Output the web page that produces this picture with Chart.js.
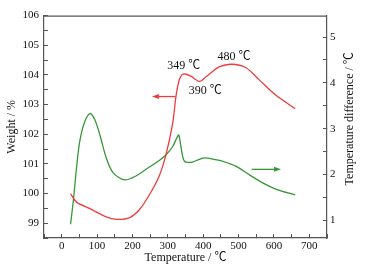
<!DOCTYPE html>
<html>
<head>
<meta charset="utf-8">
<script src="https://cdn.jsdelivr.net/npm/chart.js@4.4.0/dist/chart.umd.min.js"></script>
<style>
html,body{margin:0;padding:0;background:#fff;}
#wrap{width:365px;height:268px;}
</style>
</head>
<body>
<div id="wrap"><canvas id="c" width="365" height="268"></canvas></div>
<script>
// TG curve (weight, left axis)
const tgTemp   = [25, 42, 80, 126, 155, 192, 220, 250, 276, 295, 314, 323, 332, 340, 349, 365, 390, 407, 417, 445, 480, 520, 557, 605, 660];
const tgWeight = [100.0, 99.71, 99.49, 99.21, 99.13, 99.19, 99.46, 100.0, 100.6, 101.32, 102.38, 103.27, 103.82, 104.0, 104.03, 103.96, 103.78, 103.93, 104.02, 104.27, 104.36, 104.25, 103.85, 103.32, 102.86];
// DTA curve (temperature difference, right axis)
const dtaTemp  = [25, 33, 42, 51, 65, 80, 94, 108, 126, 145, 178, 211, 248, 275, 295, 314, 325, 331, 337, 344, 351, 370, 389, 407, 430, 454, 492, 529, 567, 605, 660];
const dtaDiff  = [0.91, 1.43, 2.15, 2.72, 3.15, 3.33, 3.19, 2.86, 2.36, 2.04, 1.88, 1.97, 2.16, 2.30, 2.43, 2.61, 2.79, 2.86, 2.61, 2.33, 2.27, 2.27, 2.33, 2.36, 2.33, 2.29, 2.18, 2.00, 1.82, 1.68, 1.55];
// axis ticks
const xTicks  = [-50, 0, 50, 100, 150, 200, 250, 300, 350, 400, 450, 500, 550, 600, 650, 700, 750];
const xLabels = [0, 100, 200, 300, 400, 500, 600, 700];
const yTicks  = [98.5, 99, 99.5, 100, 100.5, 101, 101.5, 102, 102.5, 103, 103.5, 104, 104.5, 105, 105.5, 106];
const yLabels = [99, 100, 101, 102, 103, 104, 105, 106];
const y1Ticks  = [1, 1.5, 2, 2.5, 3, 3.5, 4, 4.5, 5];
const y1Labels = [1, 2, 3, 4, 5];
// peak annotations
const peakLabels = ['349 ℃', '390 ℃', '480 ℃'];
const peakTemps  = [345, 406, 487];
const peakWeight = [104.3, 103.47, 104.6];

const SERIF = "'Liberation Serif', 'Times New Roman', 'Noto Sans CJK SC', serif";
const AX = '#555';
const RED = 'rgb(240,60,60)';
const GREEN = 'rgb(55,150,55)';

function pts(xs, ys){ return xs.map((x,i)=>({x:x, y:ys[i]})); }
function setTicks(list){ return s => { s.ticks = list.map(v=>({value:v})); }; }
function lab(list){ return v => list.includes(Math.round(v*100)/100) ? String(v) : ''; }

const decor = {
  id:'decor',
  afterDraw(chart){
    const ctx = chart.ctx, a = chart.chartArea;
    const sx = chart.scales.x, sy = chart.scales.y, sy1 = chart.scales.y1;
    ctx.save();
    // top frame line
    ctx.strokeStyle = AX; ctx.lineWidth = 1.2;
    ctx.beginPath(); ctx.moveTo(a.left, a.top+0.5); ctx.lineTo(a.right, a.top+0.5); ctx.stroke();
    // peak labels
    ctx.fillStyle = '#111'; ctx.font = '12px ' + SERIF;
    ctx.textAlign = 'center'; ctx.textBaseline = 'middle';
    peakLabels.forEach((t,i)=>{
      ctx.fillText(t, sx.getPixelForValue(peakTemps[i]), sy.getPixelForValue(peakWeight[i]));
    });
    // arrows
    function arrow(scaleY, x0, x1, yv, color){
      const px0 = sx.getPixelForValue(x0), px1 = sx.getPixelForValue(x1), py = scaleY.getPixelForValue(yv);
      const dir = Math.sign(px1 - px0);
      ctx.strokeStyle = color; ctx.fillStyle = color; ctx.lineWidth = 1.3;
      ctx.beginPath(); ctx.moveTo(px0, py); ctx.lineTo(px1 - dir*5, py); ctx.stroke();
      ctx.beginPath(); ctx.moveTo(px1, py); ctx.lineTo(px1 - dir*7, py-2.5); ctx.lineTo(px1 - dir*7, py+2.5); ctx.closePath(); ctx.fill();
    }
    arrow(sy, 322, 255, 103.27, RED);
    arrow(sy1, 537, 620, 2.11, GREEN);
    // right axis title (reads bottom-to-top)
    ctx.fillStyle = '#111'; ctx.font = '12px ' + SERIF;
    ctx.translate(sy1.right - 15, (a.top + a.bottom)/2 - 8);
    ctx.rotate(-Math.PI/2);
    ctx.textAlign = 'center'; ctx.textBaseline = 'middle';
    ctx.fillText('Temperature difference / ℃', 0, 0);
    ctx.restore();
  }
};

const gridOpts = {drawOnChartArea:false, color:AX, tickColor:AX, tickLength:-4, lineWidth:1};
const borderOpts = {color:AX, width:1.2};
const tickFont = {family:SERIF, size:11};

new Chart(document.getElementById('c'), {
  type:'line',
  data:{ datasets:[
    {label:'Weight', data:pts(tgTemp, tgWeight), yAxisID:'y', borderColor:RED, borderWidth:1.3, pointRadius:0, fill:false, tension:0.3},
    {label:'DTA', data:pts(dtaTemp, dtaDiff), yAxisID:'y1', borderColor:GREEN, borderWidth:1.3, pointRadius:0, fill:false, tension:0.3}
  ]},
  options:{
    responsive:false, animation:false, devicePixelRatio:1,
    layout:{padding:{top:12, left:0, right:0, bottom:0}},
    plugins:{legend:{display:false}, tooltip:{enabled:false}},
    scales:{
      x:{type:'linear', position:'bottom', min:-50, max:750,
         afterBuildTicks:setTicks(xTicks), afterFit:s=>{s.height=30;},
         grid:gridOpts, border:borderOpts,
         ticks:{font:tickFont, color:'#111', padding:6, maxRotation:0, autoSkip:false, callback:lab(xLabels)},
         title:{display:true, text:'Temperature / ℃', font:{family:SERIF, size:12}, color:'#111', padding:{top:3, bottom:3}}},
      y:{type:'linear', position:'left', min:98.5, max:106,
         afterBuildTicks:setTicks(yTicks), afterFit:s=>{s.width=44;},
         grid:gridOpts, border:borderOpts,
         ticks:{font:tickFont, color:'#111', padding:9, autoSkip:false, callback:lab(yLabels)},
         title:{display:true, text:'Weight / %', font:{family:SERIF, size:12}, color:'#111', padding:{top:5, bottom:5}}},
      y1:{type:'linear', position:'right', min:0.61, max:5.47,
         afterBuildTicks:setTicks(y1Ticks), afterFit:s=>{s.width=38;},
         grid:gridOpts, border:borderOpts,
         ticks:{font:tickFont, color:'#111', padding:7, autoSkip:false, callback:lab(y1Labels)}}
    }
  },
  plugins:[decor]
});
</script>
</body>
</html>
